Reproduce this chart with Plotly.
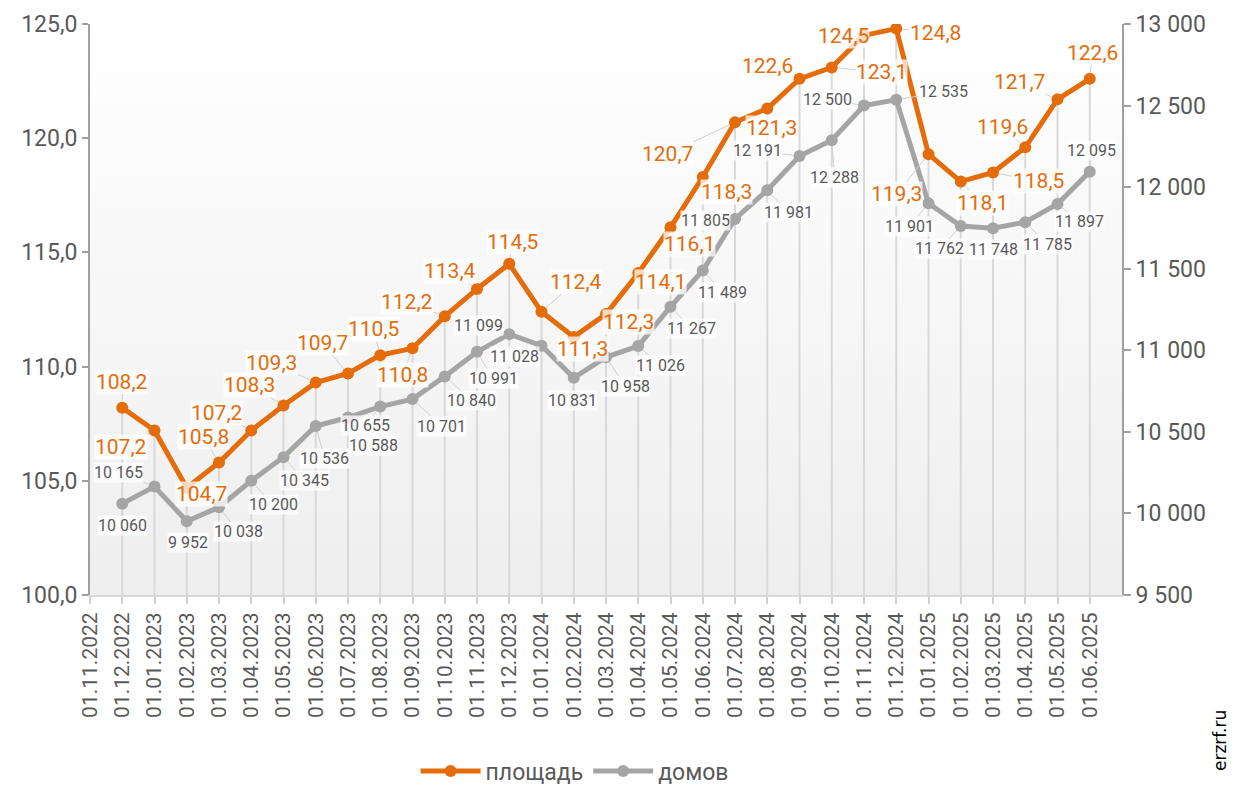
import plotly.graph_objects as go

dates = ["01.11.2022", "01.12.2022", "01.01.2023", "01.02.2023", "01.03.2023", "01.04.2023",
         "01.05.2023", "01.06.2023", "01.07.2023", "01.08.2023", "01.09.2023", "01.10.2023",
         "01.11.2023", "01.12.2023", "01.01.2024", "01.02.2024", "01.03.2024", "01.04.2024",
         "01.05.2024", "01.06.2024", "01.07.2024", "01.08.2024", "01.09.2024", "01.10.2024",
         "01.11.2024", "01.12.2024", "01.01.2025", "01.02.2025", "01.03.2025", "01.04.2025",
         "01.05.2025", "01.06.2025"]

area = [None, 108.2, 107.2, 104.7, 105.8, 107.2, 108.3, 109.3, 109.7, 110.5, 110.8, 112.2,
        113.4, 114.5, 112.4, 111.3, 112.3, 114.1, 116.1, 118.3, 120.7, 121.3, 122.6, 123.1,
        124.5, 124.8, 119.3, 118.1, 118.5, 119.6, 121.7, 122.6]

houses = [None, 10060, 10165, 9952, 10038, 10200, 10345, 10536, 10588, 10655, 10701, 10840,
          10991, 11099, 11028, 10831, 10958, 11026, 11267, 11489, 11805, 11981, 12191, 12288,
          12500, 12535, 11901, 11762, 11748, 11785, 11897, 12095]

# label offsets (pixels) relative to the point: (dx, dy) with dy positive downward
area_off = [None, (0, -26), (-34, 16), (15, 6), (-16, -26), (-34, -18), (-34, -20), (-44, -20),
            (-26, -30), (-7, -26), (-10, 27), (-38, -14), (-27, -18), (3, -22), (34, -30),
            (9, 12), (22, 8), (22, 9), (19, 17), (24, 15), (-68, 32), (4, 19), (-32, -13),
            (50, 5), (-21, 1), (39, 4), (-32, 40), (22, 21), (45, 9), (-23, -20), (-38, -17),
            (3, -26)]
houses_off = [None, (0, 22), (-36, -14), (1, 21), (19, 24), (22, 24), (21, 23), (9, 33),
              (25, 28), (-15, 19), (29, 27), (27, 24), (16, 27), (-31, -9), (-27, 11),
              (-1, 23), (19, 29), (22, 19), (21, 22), (20, 22), (-30, 2), (21, 22), (-42, -5),
              (3, 37), (-37, -6), (47, -8), (-19, 23), (-21, 23), (0, 21), (22, 22), (22, 18),
              (2, -21)]

ORANGE = "#E46C0A"
GRAY = "#A5A5A5"
TXT = "#595959"
FONT = "Roboto"

xidx = list(range(len(dates)))
x_range = [0, len(dates)]
y_range = [100, 125]
y2_range = [9500, 13000]

fig = go.Figure()

# plot-area background gradient
fig.add_trace(go.Scatter(
    x=[x_range[0], x_range[1], x_range[1], x_range[0], x_range[0]],
    y=[y_range[0], y_range[0], y_range[1], y_range[1], y_range[0]],
    mode="lines", line=dict(width=0), fill="toself",
    fillgradient=dict(type="vertical", colorscale=[[0, "#eeeeee"], [1, "#ffffff"]]),
    hoverinfo="skip", showlegend=False))

# drop lines
dx, dy = [], []
for i, v in zip(xidx, area):
    if v is None:
        continue
    dx += [i, i, None]
    dy += [y_range[0], v, None]
fig.add_trace(go.Scatter(x=dx, y=dy, mode="lines", line=dict(color="#d9d9d9", width=2),
                         hoverinfo="skip", showlegend=False))

fig.add_trace(go.Scatter(x=xidx, y=area, name="площадь", mode="lines+markers",
                         line=dict(color=ORANGE, width=5), marker=dict(size=12, color=ORANGE),
                         yaxis="y"))
fig.add_trace(go.Scatter(x=xidx, y=houses, name="домов", mode="lines+markers",
                         line=dict(color=GRAY, width=5), marker=dict(size=12, color=GRAY),
                         yaxis="y2"))

ann = []
for i, v, o in zip(xidx, area, area_off):
    if v is None:
        continue
    ann.append(dict(x=i, y=v, xref="x", yref="y", text=f"{v:.1f}".replace(".", ","),
                    showarrow=True, ax=o[0], ay=o[1], arrowhead=0, arrowwidth=1,
                    arrowcolor="#d0d0d0", standoff=6,
                    font=dict(family=FONT, size=21, color=ORANGE),
                    bgcolor="rgba(255,255,255,0.75)", borderpad=0))
for i, v, o in zip(xidx, houses, houses_off):
    if v is None:
        continue
    ann.append(dict(x=i, y=v, xref="x", yref="y2", text=f"{v:,}".replace(",", " "),
                    showarrow=True, ax=o[0], ay=o[1], arrowhead=0, arrowwidth=1,
                    arrowcolor="#d0d0d0", standoff=6,
                    font=dict(family=FONT, size=16, color=TXT),
                    bgcolor="rgba(255,255,255,0.75)", borderpad=0))
ann.append(dict(x=1.106, y=-0.312, xref="paper", yref="paper", text="erzrf.ru",
                textangle=-90, showarrow=False,
                font=dict(family="DejaVu Sans", size=17, color="#000000")))

fig.update_layout(
    width=1229, height=779,
    margin=dict(l=82, r=115, t=16, b=192),
    paper_bgcolor="white", plot_bgcolor="white",
    separators=", ",
    font=dict(family=FONT, color=TXT),
    showlegend=True,
    legend=dict(orientation="h", xref="container", yref="container", x=0.461, y=0.0205,
                xanchor="center", yanchor="middle",
                font=dict(family=FONT, size=23, color=TXT), itemwidth=60),
    xaxis=dict(range=x_range, tickvals=xidx, ticktext=dates, tickangle=-90, automargin=False,
               showgrid=False, zeroline=False, showline=True, linecolor="#d9d9d9", linewidth=2,
               ticks="outside", ticklen=7, tickcolor="#d0d0d0", tickwidth=2,
               tickfont=dict(family=FONT, size=21, color=TXT)),
    yaxis=dict(range=y_range, dtick=5, tickformat=".1f", showgrid=False, zeroline=False,
               automargin=False,
               showline=True, linecolor="#a0a0a0", linewidth=2, ticks="outside", ticklen=6,
               tickcolor="#a0a0a0", tickwidth=2,
               tickfont=dict(family=FONT, size=23, color=TXT)),
    yaxis2=dict(range=y2_range, dtick=500, tickformat=",d", overlaying="y", side="right",
                automargin=False,
                showgrid=False, zeroline=False, showline=True, linecolor="#a0a0a0", linewidth=2,
                ticks="outside", ticklen=7, tickcolor="#a0a0a0", tickwidth=2,
                tickfont=dict(family=FONT, size=23, color=TXT)),
    annotations=ann,
    hovermode=False,
)

fig.write_html("out.html")
